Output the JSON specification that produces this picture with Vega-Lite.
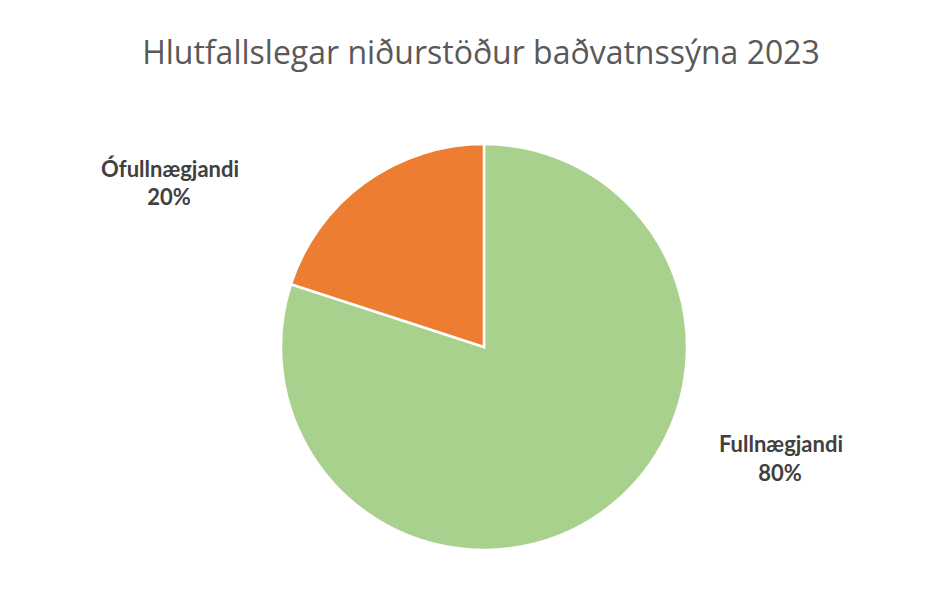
{
  "$schema": "https://vega.github.io/schema/vega-lite/v6.json",
  "width": 924,
  "height": 522,
  "autosize": {"type": "none"},
  "padding": {"left": 22, "top": 86, "right": 0, "bottom": 0},
  "background": "white",
  "config": {"view": {"stroke": null}},
  "title": {
    "text": "Hlutfallslegar niðurstöður baðvatnssýna 2023",
    "font": "Open Sans",
    "fontSize": 32,
    "fontWeight": "normal",
    "color": "#595959",
    "anchor": "middle",
    "baseline": "alphabetic",
    "offset": -10,
    "dx": -3,
    "frame": "group"
  },
  "data": {
    "values": [
      {"flokkur": "Fullnægjandi", "hlutfall": 0.8},
      {"flokkur": "Ófullnægjandi", "hlutfall": 0.2}
    ]
  },
  "encoding": {
    "theta": {"field": "hlutfall", "type": "quantitative", "stack": true},
    "color": {
      "field": "flokkur",
      "type": "nominal",
      "scale": {"domain": ["Fullnægjandi", "Ófullnægjandi"], "range": ["#A9D18E", "#ED7D31"]},
      "legend": null
    },
    "order": {"field": "flokkur", "sort": "ascending"}
  },
  "layer": [
    {"mark": {"type": "arc", "outerRadius": 203, "stroke": "white", "strokeWidth": 2.5}},
    {
      "mark": {
        "type": "text", "radius": 250,
        "dx": {"expr": "datum.flokkur == 'Ófullnægjandi' ? -167 : 150"},
        "dy": {"expr": "datum.flokkur == 'Ófullnægjandi' ? 32 : -97"},
        "font": "Lato", "fontSize": 22, "fontWeight": "bold", "align": "center", "baseline": "alphabetic"
      },
      "encoding": {"text": {"field": "flokkur"}, "color": {"value": "#404040"}}
    },
    {
      "mark": {
        "type": "text", "radius": 250,
        "dx": {"expr": "datum.flokkur == 'Ófullnægjandi' ? -168 : 149"},
        "dy": {"expr": "datum.flokkur == 'Ófullnægjandi' ? 60 : -68"},
        "font": "Lato", "fontSize": 22, "fontWeight": "bold", "align": "center", "baseline": "alphabetic"
      },
      "encoding": {"text": {"field": "hlutfall", "format": ".0%"}, "color": {"value": "#404040"}}
    }
  ]
}
